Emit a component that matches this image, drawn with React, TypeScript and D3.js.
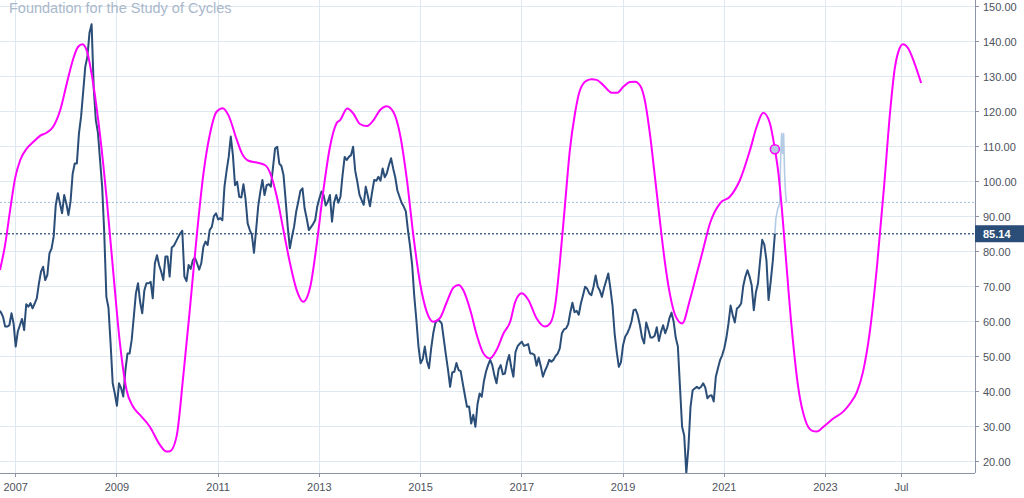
import React from "react";
import * as d3 from "d3";

// ---------- data ----------
const TITLE = "Foundation for the Study of Cycles";

const yearTicks = [2007, 2009, 2011, 2013, 2015, 2017, 2019, 2021, 2023, 2024.5];
const yearTickLabels = ["2007", "2009", "2011", "2013", "2015", "2017", "2019", "2021", "2023", "Jul"];

const priceTicks = [20, 30, 40, 50, 60, 70, 80, 90, 100, 110, 120, 130, 140, 150];

// semi-monthly closes starting Sep 2006
const PRICE_START = 2006 + 8 / 12;
const PRICE_STEP = 1 / 24;
const priceValues = [
  63.3, 62.7, 61.4, 58.6, 58.6, 59.0, 62.4, 59.5, 52.9, 57.2,
  59.0, 60.8, 57.6, 65.0, 64.3, 65.3, 63.8, 65.2, 66.7, 70.9,
  74.3, 75.7, 71.9, 73.3, 79.5, 80.9, 84.3, 93.3, 96.7, 93.8,
  91.0, 96.2, 93.8, 90.5, 94.3, 102.2, 105.2, 105.2, 113.8, 118.6,
  125.7, 132.9, 135.7, 142.6, 145.0, 126.7, 117.6, 114.0, 106.2, 98.6,
  85.2, 67.1, 64.0, 53.8, 42.4, 39.5, 36.0, 42.4, 41.0, 38.6,
  46.0, 50.9, 50.9, 54.8, 61.4, 68.1, 71.0, 65.7, 62.4, 68.9,
  71.0, 71.0, 71.4, 66.7, 76.7, 79.0, 76.2, 74.3, 71.9, 78.6,
  78.6, 72.9, 81.2, 81.7, 82.9, 84.1, 85.2, 86.0, 72.9, 71.6,
  76.2, 75.1, 77.6, 78.3, 76.7, 74.9, 76.7, 81.4, 82.9, 81.9,
  86.2, 87.1, 90.2, 91.0, 89.2, 89.6, 89.0, 98.6, 103.1, 107.1,
  112.9, 107.6, 99.0, 100.0, 95.7, 95.5, 99.3, 95.0, 88.1, 86.2,
  84.8, 79.7, 86.2, 93.0, 97.1, 100.5, 96.2, 99.0, 99.3, 98.6,
  104.0, 109.5, 110.0, 105.2, 104.5, 101.9, 94.8, 87.1, 81.0, 84.3,
  87.1, 91.4, 94.3, 97.4, 98.1, 92.4, 89.5, 86.2, 87.0, 87.9,
  89.0, 92.9, 95.2, 97.2, 96.2, 93.2, 94.3, 96.2, 88.6, 94.1,
  96.2, 94.0, 95.7, 101.9, 107.1, 106.2, 107.1, 107.6, 110.0, 103.1,
  100.0, 96.3, 94.8, 93.4, 98.6, 95.9, 93.0, 97.0, 100.5, 100.3,
  101.4, 100.3, 103.8, 101.3, 102.4, 104.8, 106.7, 103.8, 101.2, 97.5,
  95.7, 94.0, 92.9, 91.5, 86.2, 81.6, 76.2, 67.3, 60.5, 52.9,
  48.1, 49.3, 52.9, 48.8, 46.7, 52.3, 56.7, 59.6, 60.5, 60.2,
  59.5, 55.0, 50.5, 46.3, 41.4, 45.5, 45.7, 48.2, 46.2, 45.9,
  42.4, 39.0, 35.7, 35.8, 30.9, 33.4, 30.0, 36.5, 39.5, 38.6,
  42.9, 45.7, 47.6, 49.1, 47.6, 44.6, 42.4, 46.4, 47.6, 45.0,
  45.2, 48.4, 50.5, 47.0, 44.3, 51.3, 53.0, 53.7, 54.3, 53.1,
  53.3, 53.6, 50.9, 50.9, 50.5, 47.4, 49.8, 47.3, 44.3, 46.0,
  47.3, 49.1, 48.6, 49.1, 50.2, 50.9, 52.4, 56.7, 57.8, 58.1,
  59.3, 62.7, 65.4, 62.7, 63.1, 62.0, 65.2, 67.5, 70.0, 69.4,
  68.1, 67.6, 70.0, 73.2, 70.0, 68.9, 67.1, 69.7, 71.7, 73.8,
  69.5, 64.7, 56.7, 51.4, 47.1, 48.4, 53.3, 55.7, 56.7, 58.1,
  60.0, 63.3, 63.5, 61.8, 59.0, 55.5, 53.8, 59.8, 57.8, 55.5,
  55.5, 56.0, 58.4, 54.5, 57.1, 59.0, 56.7, 58.4, 61.0, 62.6,
  60.0, 55.4, 52.9, 41.4, 30.0, 27.5, 16.7, 24.1, 35.7, 40.4,
  40.9, 41.4, 40.9, 41.4, 42.4, 41.2, 38.1, 38.8, 39.0, 37.2,
  44.3, 46.7, 49.0, 50.4, 52.4, 55.4, 59.5, 64.6, 61.9, 59.8,
  63.8, 64.3, 65.2, 70.2, 72.9, 74.7, 72.9, 70.4, 63.3, 68.4,
  71.0, 77.5, 83.4, 82.0, 77.6, 66.2, 71.4, 77.3, 85.14,
];

// weekly projection (light blue) starting at the last close
const PROJ_START = 2022.0;
const PROJ_STEP = 1 / 52.18;
const projectionValues = [85.14, 89.5, 90.8, 92.4, 92.9, 94.3, 107.1, 113.8, 108.1, 113.8, 102.4, 96.7, 94.1];

const LAST_PRICE = 85.14;
const LAST_PROJ = 94.1;

// cycle composite (magenta)
const cycleYears = [
  2006.69, 2006.79, 2006.89, 2006.99, 2007.09, 2007.22, 2007.35, 2007.48, 2007.61, 2007.74,
  2007.88, 2008.01, 2008.14, 2008.23, 2008.32, 2008.41, 2008.53, 2008.67, 2008.8, 2008.93,
  2009.06, 2009.19, 2009.32, 2009.46, 2009.65, 2009.85, 2009.98, 2010.05, 2010.18, 2010.31,
  2010.44, 2010.58, 2010.71, 2010.84, 2010.97, 2011.09, 2011.2, 2011.37, 2011.47, 2011.6,
  2011.76, 2011.93, 2012.03, 2012.16, 2012.29, 2012.42, 2012.55, 2012.68, 2012.82, 2012.95,
  2013.08, 2013.21, 2013.34, 2013.41, 2013.55, 2013.67, 2013.8, 2013.94, 2014.07, 2014.2,
  2014.33, 2014.46, 2014.59, 2014.73, 2014.86, 2014.99, 2015.12, 2015.25, 2015.38, 2015.52,
  2015.65, 2015.75, 2015.84, 2015.98, 2016.11, 2016.24, 2016.37, 2016.5, 2016.64, 2016.77,
  2016.87, 2017.0, 2017.13, 2017.29, 2017.46, 2017.56, 2017.66, 2017.75, 2017.85, 2017.95,
  2018.05, 2018.15, 2018.28, 2018.38, 2018.48, 2018.61, 2018.78, 2018.88, 2019.01, 2019.14,
  2019.24, 2019.34, 2019.43, 2019.53, 2019.63, 2019.73, 2019.83, 2019.93, 2020.03, 2020.17,
  2020.32, 2020.46, 2020.58, 2020.72, 2020.92, 2021.11, 2021.31, 2021.51, 2021.64, 2021.77,
  2021.9, 2022.0, 2022.07, 2022.14, 2022.2, 2022.33, 2022.46, 2022.6, 2022.73, 2022.83,
  2022.96, 2023.16, 2023.35, 2023.49, 2023.62, 2023.74, 2023.88, 2024.02, 2024.16, 2024.28,
  2024.37, 2024.45, 2024.53, 2024.63, 2024.75, 2024.89,
];
const cycleValues = [
  74.8, 81.9, 91.9, 101.1, 106.2, 109.5, 111.4, 113.1, 114.0, 115.7,
  120.5, 128.1, 135.3, 138.5, 139.3, 137.2, 128.1, 112.9, 94.8, 73.8,
  53.8, 40.5, 35.7, 33.3, 30.0, 24.8, 22.9, 23.0, 27.3, 44.3,
  63.4, 85.0, 102.4, 113.8, 120.0, 121.0, 119.1, 111.9, 108.1, 106.0,
  105.5, 104.7, 102.4, 95.7, 86.2, 76.7, 69.1, 65.7, 70.0, 82.4,
  97.6, 110.0, 116.7, 117.6, 120.9, 119.5, 116.5, 115.9, 117.6, 120.5,
  121.6, 120.0, 113.8, 100.5, 84.3, 71.0, 62.9, 60.0, 61.0, 65.7,
  69.8, 70.5, 69.1, 63.4, 56.2, 51.0, 49.5, 51.9, 56.7, 60.0,
  65.7, 68.1, 66.2, 61.0, 58.6, 59.5, 64.8, 76.7, 92.9, 109.1,
  119.5, 126.2, 128.9, 129.3, 129.1, 127.6, 125.4, 125.4, 127.2, 128.5,
  128.6, 127.4, 123.3, 113.8, 101.4, 88.6, 76.7, 67.6, 61.9, 59.5,
  66.2, 73.9, 80.5, 88.2, 93.9, 95.7, 100.5, 109.1, 115.7, 119.7,
  116.8, 109.3, 102.4, 91.9, 81.4, 58.6, 41.4, 31.9, 28.9, 28.6,
  30.0, 32.4, 34.3, 36.7, 39.9, 45.6, 57.6, 76.2, 99.1, 120.5,
  132.5, 137.6, 139.3, 138.2, 134.2, 128.2,
];

const MARKER_YEAR = 2022.0;
const MARKER_VALUE = 109.3;

// ---------- layout ----------
const W = 1024;
const H = 498;
const PLOT_R = 975;
const PLOT_B = 473;
const FONT = "'Liberation Sans', Arial, sans-serif";

export default function App() {
  const x = d3.scaleLinear().domain([2006.69, 2025.954]).range([0, PLOT_R]);
  const y = d3.scaleLinear().domain([20, 150]).range([461.7, 6.75]);

  const pricePts: [number, number][] = priceValues.map((v, i) => [PRICE_START + i * PRICE_STEP, v]);
  const projPts: [number, number][] = projectionValues.map((v, i) => [PROJ_START + i * PROJ_STEP, v]);
  const cyclePts: [number, number][] = cycleYears.map((t, i) => [t, cycleValues[i]]);

  const lin = d3
    .line<[number, number]>()
    .x((d) => x(d[0]))
    .y((d) => y(d[1]));
  const smooth = d3
    .line<[number, number]>()
    .x((d) => x(d[0]))
    .y((d) => y(d[1]))
    .curve(d3.curveMonotoneX);

  const gridColor = "#dfe7f0";
  const axisColor = "#8e92a6";
  const labelColor = "#4e525c";
  const navy = "#2b4e78";

  return (
    <svg
      width={W}
      height={H}
      style={{ position: "absolute", left: 0, top: 0, background: "#fff" }}
      fontFamily={FONT}
    >
      <defs>
        <clipPath id="plot">
          <rect x={0} y={0} width={PLOT_R} height={PLOT_B} />
        </clipPath>
      </defs>
      <rect x={0} y={0} width={W} height={H} fill="#fff" />

      {/* grid */}
      <g shapeRendering="crispEdges">
        {priceTicks.map((t) => (
          <line key={"h" + t} x1={0} x2={PLOT_R} y1={y(t)} y2={y(t)} stroke={gridColor} strokeWidth={1} />
        ))}
        {yearTicks.map((t) => (
          <line key={"v" + t} x1={x(t)} x2={x(t)} y1={0} y2={PLOT_B} stroke={gridColor} strokeWidth={1} />
        ))}
      </g>

      {/* title */}
      <text x={9} y={13} fontSize={14.5} fill="#a9b8cb">
        {TITLE}
      </text>

      <g clipPath="url(#plot)">
        <line
          x1={0}
          x2={PLOT_R}
          y1={y(LAST_PROJ)}
          y2={y(LAST_PROJ)}
          stroke="#9fbde0"
          strokeWidth={1}
          strokeDasharray="2 2"
        />
        <line
          x1={0}
          x2={PLOT_R}
          y1={y(LAST_PRICE)}
          y2={y(LAST_PRICE)}
          stroke={navy}
          strokeWidth={1.5}
          strokeDasharray="2 2"
          opacity={0.85}
        />
        <path d={lin(projPts) || ""} fill="none" stroke="#b4cbe5" strokeWidth={1.6} strokeLinejoin="round" />
        <path d={lin(pricePts) || ""} fill="none" stroke={navy} strokeWidth={2} strokeLinejoin="round" />
        <path d={smooth(cyclePts) || ""} fill="none" stroke="#ff00ff" strokeWidth={2} />
        <circle cx={x(MARKER_YEAR)} cy={y(MARKER_VALUE)} r={4.5} fill="#b8c9e2" stroke="#ff00ff" strokeWidth={1.5} />
      </g>

      {/* axes */}
      <g shapeRendering="crispEdges">
        <line x1={PLOT_R} x2={PLOT_R} y1={0} y2={PLOT_B} stroke={axisColor} strokeWidth={1} />
        <line x1={0} x2={PLOT_R} y1={PLOT_B} y2={PLOT_B} stroke={axisColor} strokeWidth={1} />
        {priceTicks.map((t) => (
          <line key={"pt" + t} x1={PLOT_R} x2={PLOT_R + 4} y1={y(t)} y2={y(t)} stroke={axisColor} />
        ))}
        {yearTicks.map((t) => (
          <line key={"yt" + t} x1={x(t)} x2={x(t)} y1={PLOT_B} y2={PLOT_B + 4} stroke={axisColor} />
        ))}
      </g>
      {priceTicks.map((t) => (
        <text key={"pl" + t} x={983} y={y(t)} dy="0.35em" fontSize={11} fill={labelColor}>
          {t.toFixed(2)}
        </text>
      ))}
      {yearTicks.map((t, i) => (
        <text key={"yl" + t} x={x(t)} y={491} textAnchor="middle" fontSize={11} fill={labelColor}>
          {yearTickLabels[i]}
        </text>
      ))}

      {/* last price label */}
      <rect x={PLOT_R} y={y(LAST_PRICE) - 8.5} width={W - PLOT_R} height={17} fill={navy} />
      <text x={983} y={y(LAST_PRICE)} dy="0.35em" fontSize={11} fontWeight="bold" fill="#fff">
        {LAST_PRICE.toFixed(2)}
      </text>
    </svg>
  );
}
